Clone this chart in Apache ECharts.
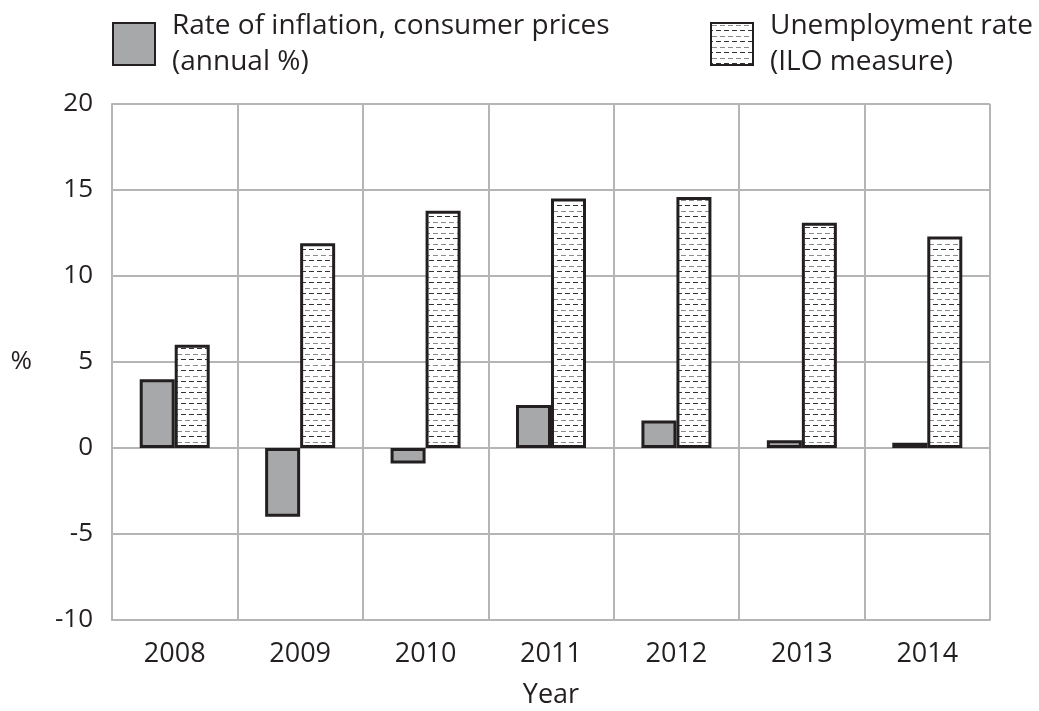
<!DOCTYPE html>
<html><head><meta charset="utf-8">
<script src="https://cdn.jsdelivr.net/npm/echarts@6/dist/echarts.min.js"></script>
<style>html,body{margin:0;padding:0;background:#fff}#c{width:1039px;height:711px}</style>
</head><body><div id="c"></div>
<script>
const years = ['2008','2009','2010','2011','2012','2013','2014'];
const inflation = [4.0, -4.0, -0.9, 2.5, 1.6, 0.45, 0.3];
const unemployment = [6.0, 11.9, 13.8, 14.5, 14.6, 13.1, 12.3];
const seriesNames = ['Rate of inflation, consumer prices\n(annual %)', 'Unemployment rate\n(ILO measure)'];

function makePattern(){
  const c = document.createElement('canvas');
  c.width = 16; c.height = 11;
  const g = c.getContext('2d');
  g.fillStyle = '#ffffff'; g.fillRect(0,0,16,11);
  g.fillStyle = '#8a8a8a';
  g.fillRect(1,2,5,1); g.fillRect(9,2,5,1);
  g.fillStyle = '#333333';
  g.fillRect(5,7,5,1); g.fillRect(13,7,3,1); g.fillRect(0,7,2,1);
  return c;
}
const pat = {image: makePattern(), repeat: 'repeat'};
const font = 'Open Sans';
const legendText = {fontFamily: font, fontSize: 28, color:'#231f20', lineHeight: 36, padding: [0,0,0,12]};
const chart = echarts.init(document.getElementById('c'), null, {renderer:'canvas'});
chart.setOption({
  animation: false,
  backgroundColor: '#fff',
  textStyle: {fontFamily: font, color: '#231f20'},
  legend: [
    {data:[seriesNames[0]], left: 107, top: 3, itemWidth: 42, itemHeight: 42, icon: 'rect',
     textStyle: legendText},
    {data:[seriesNames[1]], left: 705, top: 3, itemWidth: 42, itemHeight: 42, icon: 'rect',
     textStyle: legendText}
  ],
  grid: {left: 112, right: 49, top: 104, bottom: 91, containLabel: false, outerBoundsMode: 'none'},
  xAxis: {
    type: 'category', data: years,
    name: 'Year', nameLocation: 'middle', nameGap: 62,
    nameTextStyle: {fontFamily: font, fontSize: 27, color:'#231f20'},
    axisLine: {onZero: false, lineStyle: {color:'#b5b5b5', width: 2}},
    axisTick: {show: false},
    splitLine: {show: true, lineStyle: {color:'#b5b5b5', width: 2}},
    axisLabel: {fontFamily: font, fontSize: 27, color:'#231f20', margin: 21}
  },
  yAxis: {
    type: 'value', min: -10, max: 20, interval: 5,
    name: '%', nameLocation: 'middle', nameGap: 80, nameRotate: 0,
    nameTextStyle: {fontFamily: font, fontSize: 26, color:'#231f20'},
    axisLine: {show: true, lineStyle: {color:'#b5b5b5', width: 2}},
    axisTick: {show: false},
    splitLine: {lineStyle: {color:'#b5b5b5', width: 2}},
    axisLabel: {fontFamily: font, fontSize: 26, color:'#231f20', margin: 19}
  },
  series: [
    {name: seriesNames[0], type: 'bar', data: inflation, barWidth: 35, barGap: '0%',
     itemStyle: {color:'#a7a8aa', borderColor:'#231f20', borderWidth: 3}},
    {name: seriesNames[1], type: 'bar', data: unemployment, barWidth: 35, barGap: '0%',
     itemStyle: {color: pat, borderColor:'#231f20', borderWidth: 3}}
  ]
});
</script></body></html>
